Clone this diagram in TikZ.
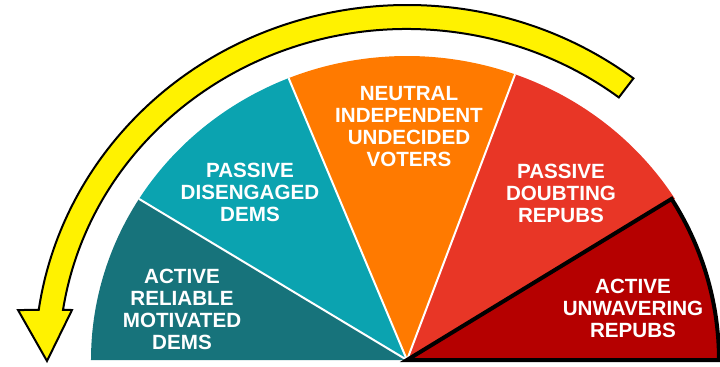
\documentclass[tikz,border=0pt]{standalone}
\usepackage{fontspec}
\setmainfont{Liberation Sans}
\definecolor{fantealdark}{HTML}{17737B}
\definecolor{fanteal}{HTML}{0BA3B0}
\definecolor{fanorange}{HTML}{FF7A00}
\definecolor{fanred}{HTML}{E83626}
\definecolor{fanreddark}{HTML}{B50000}
\definecolor{arrowyellow}{HTML}{FFF200}
\tikzset{
	fanlabel/.style={text=white, align=center, font=\fontsize{10.3}{11}\selectfont\bfseries}
}

\begin{document}
\begin{tikzpicture}[x=0.5pt, y=0.5pt]
		\useasboundingbox (-407, -6) rectangle (313, 360);
		\foreach \a/\b/\c in {32/70/fanred, 70/112/fanorange, 112/148/fanteal, 148/180/fantealdark}
			\fill[\c] (0, 0) -- (\a:316 and 304) arc[start angle=\a, end angle=\b, x radius=316, y radius=304] -- cycle;
		\foreach \a in {70, 112, 148}
			\draw[white, line width=1pt] (0, 0) -- (\a:316 and 304);
		\filldraw[fill=fanreddark, line width=2pt, line join=miter] (0, 0) -- (0:312 and 304) arc[start angle=0, end angle=32, x radius=312, y radius=304] -- cycle;
		\filldraw[fill=arrowyellow, line width=1pt, line join=miter]
			(52.5:372 and 355) arc[start angle=52.5, end angle=171.9, x radius=372, y radius=355]
			-- (-389, 50) -- (-360, -1) -- (-335, 50)
			-- (171.3:348 and 331) arc[start angle=171.3, end angle=52.5, x radius=348, y radius=331] -- cycle;
		\node[fanlabel] (activedems) at (-225, 51) {ACTIVE\\RELIABLE\\MOTIVATED\\DEMS};
		\node[fanlabel] (passivedems) at (-157, 168) {PASSIVE\\DISENGAGED\\DEMS};
		\node[fanlabel] (neutral) at (2, 233) {NEUTRAL\\INDEPENDENT\\UNDECIDED\\VOTERS};
		\node[fanlabel] (passivereps) at (154, 167) {PASSIVE\\DOUBTING\\REPUBS};
		\node[fanlabel] (activereps) at (226, 52) {ACTIVE\\UNWAVERING\\REPUBS};
	\end{tikzpicture}
\end{document}
